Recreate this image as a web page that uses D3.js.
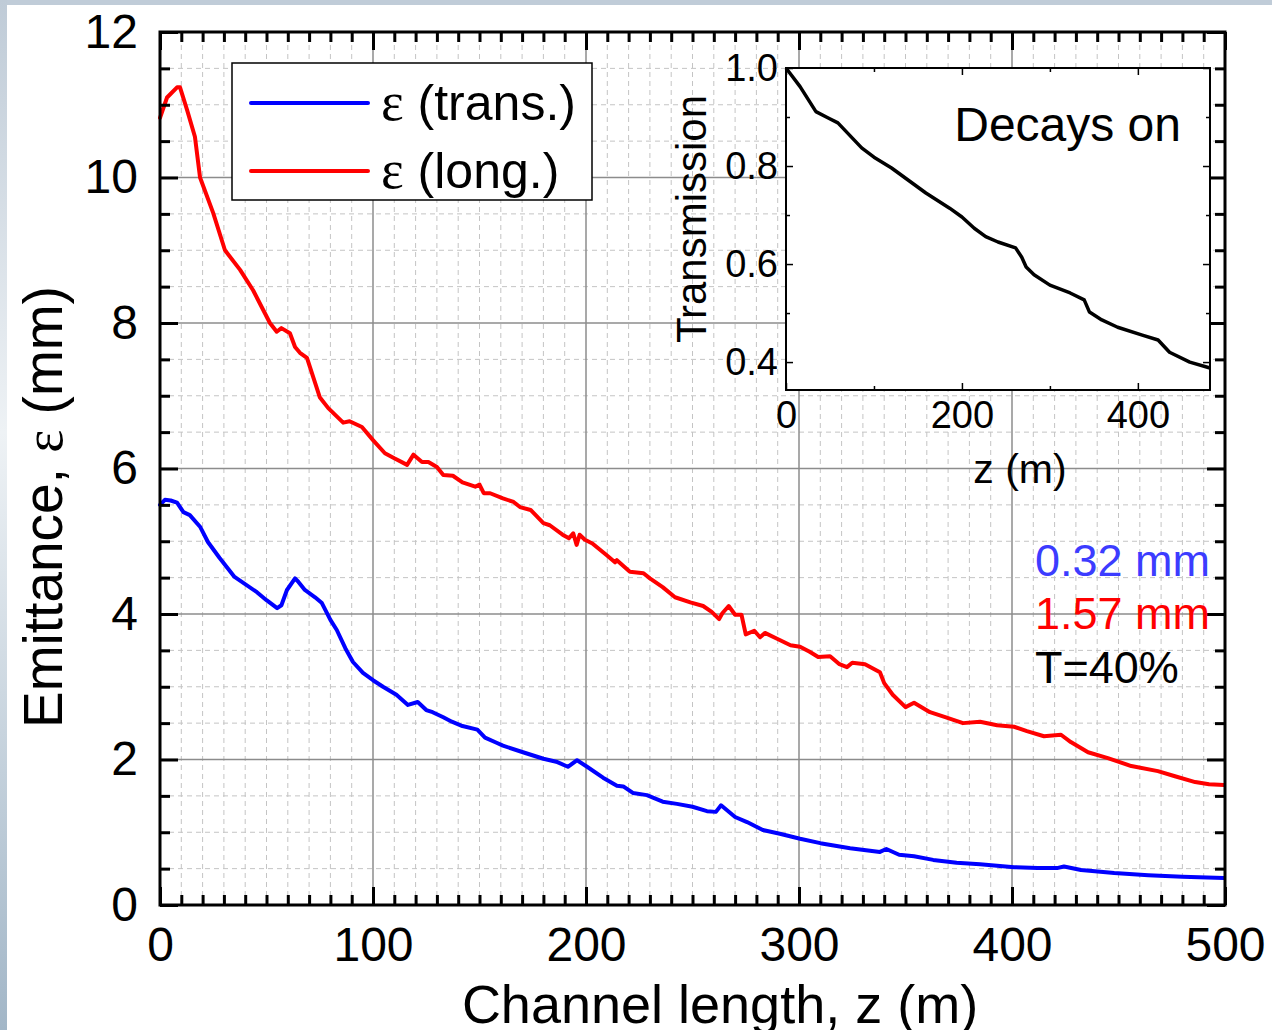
<!DOCTYPE html>
<html>
<head>
<meta charset="utf-8">
<script src="https://cdn.jsdelivr.net/npm/d3@7"></script>
<style>
  body { margin: 0; background: #fff; }
  svg { display: block; }
  text { font-family: "Liberation Sans", Arial, sans-serif; fill: #000; }
</style>
</head>
<body>
<div id="chart"></div>
<script>
// emittance, transverse (blue)
var zTrans = [0, 2.3, 5, 8, 11, 14, 18.8, 22.5, 28, 35, 45.5, 50, 55, 57, 59.6, 63.4, 65, 68, 72.8, 76,
  80, 83, 87, 90.6, 95.3, 100, 104.7, 111, 116.4, 121, 125, 128, 133, 137, 142, 149, 152.6, 158, 161, 170.4,
  180, 186, 191.5, 195.8, 200.5, 208, 214.5, 217.5, 222, 228.6, 236, 242.7, 250, 256.8, 261, 263.4, 270, 275.6, 283, 291,
  300.5, 310, 324, 338, 341, 347, 354, 363, 374, 385, 401, 412, 421.6, 424.4, 432.4, 448, 464, 480, 499.5];
var epsTrans = [5.50, 5.57, 5.56, 5.53, 5.40, 5.36, 5.20, 4.99, 4.77, 4.51, 4.30, 4.19, 4.08, 4.12, 4.33, 4.49, 4.44, 4.33, 4.23, 4.15,
  3.92, 3.78, 3.53, 3.34, 3.19, 3.09, 3.00, 2.89, 2.75, 2.79, 2.68, 2.65, 2.58, 2.52, 2.46, 2.41, 2.30, 2.23, 2.19, 2.10,
  2.01, 1.97, 1.90, 1.99, 1.90, 1.75, 1.64, 1.63, 1.54, 1.51, 1.42, 1.39, 1.35, 1.29, 1.28, 1.37, 1.21, 1.14, 1.03, 0.98,
  0.91, 0.85, 0.78, 0.73, 0.77, 0.69, 0.67, 0.62, 0.58, 0.56, 0.52, 0.51, 0.51, 0.53, 0.48, 0.44, 0.41, 0.39, 0.37];

// emittance, longitudinal (red)
var zLong = [0, 3.3, 8, 9.4, 12.7, 16.4, 18.8, 25, 30.5, 37.6, 43.7, 51.6, 54.8, 57, 61, 63.4, 65.7, 69, 75, 79,
  86, 89, 94.8, 100, 105.6, 110, 116, 119, 123, 126, 130, 133, 137.5, 142, 148, 150, 152, 155, 161, 166,
  169, 174, 180, 183, 189, 192, 194, 195.6, 197, 199.5, 203, 209.6, 213.6, 214.5, 220.6, 227, 230, 236, 241.8, 249,
  255, 259, 262.5, 264, 267, 270, 273, 275, 279, 281.7, 284, 289.7, 296, 300.5, 305, 309, 314.6, 319, 322.5, 325,
  331, 338, 340, 344, 350, 354, 361.5, 369, 377, 385, 393, 401, 407, 415, 423, 427.6, 435.7, 445, 456, 468.5,
  476.5, 486, 492.5, 499.5];
var epsLong = [10.82, 11.10, 11.24, 11.24, 10.93, 10.56, 10.00, 9.51, 9.00, 8.73, 8.45, 8.00, 7.88, 7.93, 7.86, 7.67, 7.59, 7.52, 6.98, 6.83,
  6.63, 6.65, 6.57, 6.39, 6.21, 6.14, 6.05, 6.19, 6.09, 6.09, 6.02, 5.91, 5.90, 5.81, 5.75, 5.78, 5.66, 5.66, 5.59, 5.54,
  5.47, 5.43, 5.25, 5.22, 5.09, 5.04, 5.11, 4.95, 5.09, 5.02, 4.97, 4.81, 4.71, 4.74, 4.58, 4.56, 4.49, 4.37, 4.23, 4.16,
  4.11, 4.03, 3.93, 4.01, 4.11, 3.99, 3.99, 3.72, 3.77, 3.68, 3.74, 3.66, 3.57, 3.55, 3.48, 3.41, 3.42, 3.31, 3.27, 3.33,
  3.31, 3.20, 3.05, 2.89, 2.72, 2.78, 2.65, 2.58, 2.50, 2.52, 2.47, 2.45, 2.39, 2.32, 2.34, 2.24, 2.10, 2.02, 1.91, 1.84,
  1.77, 1.69, 1.66, 1.65];

// inset: transmission
var zInset = [0, 16, 34, 48, 59, 86, 100, 120, 159, 186, 200, 214, 227, 241, 261, 268, 273, 282, 300, 323,
  339, 345, 359, 377, 405, 423, 436, 459, 482];
var transmission = [1.0, 0.962, 0.911, 0.898, 0.888, 0.837, 0.818, 0.796, 0.745, 0.714, 0.696, 0.673, 0.656, 0.645, 0.633, 0.614, 0.594, 0.578, 0.557, 0.541,
  0.527, 0.502, 0.486, 0.471, 0.455, 0.445, 0.420, 0.400, 0.388];

var xTicks = [0, 100, 200, 300, 400, 500];
var yTicks = [0, 2, 4, 6, 8, 10, 12];
var insetXTicks = [0, 200, 400];
var insetXMinor = [100, 300];
var insetYTicks = [0.4, 0.6, 0.8, 1.0];
var insetYMinor = [0.5, 0.7, 0.9];
var legendLabels = [' (trans.)', ' (long.)'];
var noteLabels = ['0.32 mm', '1.57 mm', 'T=40%'];

var width = 1272;
var height = 1030;
var svg = d3.select('#chart').append('svg')
  .attr('width', width)
  .attr('height', height);
var defs = svg.append('defs');

// slide-like edge at top and left
var edge = defs.append('linearGradient')
  .attr('id', 'edgeGrad')
  .attr('x1', 0).attr('y1', 0).attr('x2', 0).attr('y2', 1);
edge.append('stop').attr('offset', 0).attr('stop-color', '#bfcbd7');
edge.append('stop').attr('offset', 0.42).attr('stop-color', '#eef2f5');
edge.append('stop').attr('offset', 1).attr('stop-color', '#a2b6c7');
svg.append('rect')
  .attr('x', 0).attr('y', 0)
  .attr('width', width).attr('height', 5)
  .style('fill', '#c0ccd8');
svg.append('rect')
  .attr('x', 0).attr('y', 0)
  .attr('width', 7).attr('height', height)
  .style('fill', 'url(#edgeGrad)');

var x = d3.scaleLinear().domain([0, 500]).range([160, 1225]);
var y = d3.scaleLinear().domain([0, 12]).range([905, 32]);

var xMinor = d3.range(10, 500, 10).filter(function (v) { return v % 100 !== 0; });
var yMinor = d3.range(0.5, 12, 0.5).filter(function (v) { return v % 2 !== 0; });

// grid
var grid = svg.append('g');
grid.selectAll('.vminor').data(xMinor).enter().append('line')
  .attr('x1', function (d) { return x(d); })
  .attr('x2', function (d) { return x(d); })
  .attr('y1', y(0)).attr('y2', y(12))
  .style('stroke', '#c4c4c4').style('stroke-width', 1).style('stroke-dasharray', '5,4');
grid.selectAll('.hminor').data(yMinor).enter().append('line')
  .attr('y1', function (d) { return y(d); })
  .attr('y2', function (d) { return y(d); })
  .attr('x1', x(0)).attr('x2', x(500))
  .style('stroke', '#c4c4c4').style('stroke-width', 1).style('stroke-dasharray', '5,4');
grid.selectAll('.vmajor').data(xTicks.slice(1, -1)).enter().append('line')
  .attr('x1', function (d) { return x(d); })
  .attr('x2', function (d) { return x(d); })
  .attr('y1', y(0)).attr('y2', y(12))
  .style('stroke', '#8c8c8c').style('stroke-width', 1.5);
grid.selectAll('.hmajor').data(yTicks.slice(1, -1)).enter().append('line')
  .attr('y1', function (d) { return y(d); })
  .attr('y2', function (d) { return y(d); })
  .attr('x1', x(0)).attr('x2', x(500))
  .style('stroke', '#8c8c8c').style('stroke-width', 1.5);

// curves
var line = d3.line()
  .x(function (d) { return x(d[0]); })
  .y(function (d) { return y(d[1]); });
svg.append('path')
  .datum(d3.zip(zLong, epsLong))
  .attr('d', line)
  .style('fill', 'none').style('stroke', '#ff0000').style('stroke-width', 4)
  .style('stroke-linejoin', 'round').style('stroke-linecap', 'round');
svg.append('path')
  .datum(d3.zip(zTrans, epsTrans))
  .attr('d', line)
  .style('fill', 'none').style('stroke', '#0000ff').style('stroke-width', 4)
  .style('stroke-linejoin', 'round').style('stroke-linecap', 'round');

// axes, ticks pointing inward
function styleAxis(g, fontSize, tickWidth) {
  g.select('.domain').remove();
  g.attr('font-family', null).attr('font-size', fontSize);
  g.selectAll('line').style('stroke', '#000').style('stroke-width', tickWidth);
  g.selectAll('text').style('fill', '#000');
}
function addAxes(xs, ys, opt) {
  var h = ys.range()[0], t = ys.range()[1], l = xs.range()[0], r = xs.range()[1];
  [[d3.axisBottom, 'translate(0,' + h + ')', xs, true],
    [d3.axisTop, 'translate(0,' + t + ')', xs, false],
    [d3.axisLeft, 'translate(' + l + ',0)', ys, true],
    [d3.axisRight, 'translate(' + r + ',0)', ys, false]].forEach(function (a, i) {
    var horiz = i < 2;
    var major = a[0](a[2])
      .tickValues(horiz ? opt.xMajor : opt.yMajor)
      .tickSize(-opt.major)
      .tickSizeOuter(0)
      .tickPadding(horiz ? opt.xPad : opt.yPad);
    if (!a[3]) major.tickFormat('');
    else major.tickFormat(horiz ? opt.xFormat : opt.yFormat);
    svg.append('g').attr('transform', a[1]).call(major)
      .call(function (g) { styleAxis(g, opt.fontSize, opt.tickWidth); });
    var minor = a[0](a[2])
      .tickValues(horiz ? opt.xMinor : opt.yMinor)
      .tickSize(-opt.minor)
      .tickSizeOuter(0)
      .tickFormat('');
    svg.append('g').attr('transform', a[1]).call(minor)
      .call(function (g) { styleAxis(g, opt.fontSize, opt.tickWidth); });
  });
  svg.append('rect')
    .attr('x', l).attr('y', t)
    .attr('width', r - l).attr('height', h - t)
    .style('fill', 'none').style('stroke', '#000').style('stroke-width', opt.frame);
}

addAxes(x, y, {
  xMajor: xTicks, yMajor: yTicks, xMinor: xMinor, yMinor: yMinor,
  major: 18, minor: 10, xPad: 22, yPad: 22, fontSize: 48, tickWidth: 3, frame: 3,
  xFormat: d3.format('d'), yFormat: d3.format('d')
});

// legend
var legend = svg.append('g');
legend.append('rect')
  .attr('x', 232).attr('y', 63)
  .attr('width', 360).attr('height', 137)
  .style('fill', '#fff').style('stroke', '#000').style('stroke-width', 1.5);
var legendColors = ['#0000ff', '#ff0000'];
legendLabels.forEach(function (label, i) {
  var ly = 103 + i * 68;
  legend.append('line')
    .attr('x1', 251).attr('x2', 368)
    .attr('y1', ly).attr('y2', ly)
    .style('stroke', legendColors[i]).style('stroke-width', 4).style('stroke-linecap', 'round');
  var t = legend.append('text')
    .attr('x', 381).attr('y', ly + 17)
    .attr('font-size', 50);
  t.append('tspan').style('font-family', '"Liberation Serif", "DejaVu Serif", serif').attr('font-size', 54).text('ε');
  t.append('tspan').text(label);
});

// axis titles
svg.append('text')
  .attr('transform', 'translate(62,507) rotate(-90)')
  .attr('text-anchor', 'middle')
  .attr('font-size', 55)
  .call(function (t) {
    t.append('tspan').text('Emittance, ');
    t.append('tspan').style('font-family', '"Liberation Serif", "DejaVu Serif", serif').text('ε');
    t.append('tspan').text(' (mm)');
  });
svg.append('text')
  .attr('x', 720).attr('y', 1023)
  .attr('text-anchor', 'middle')
  .attr('font-size', 54)
  .text('Channel length, z (m)');

// notes
var noteColors = ['#3c3cff', '#ff0000', '#000'];
noteLabels.forEach(function (n, i) {
  svg.append('text')
    .attr('x', 1035).attr('y', [576, 629, 683][i])
    .attr('font-size', 45)
    .style('fill', noteColors[i])
    .text(n);
});

// inset
var ix = d3.scaleLinear().domain([0, 482]).range([786, 1210]);
var iy = d3.scaleLinear().domain([0.343, 1]).range([390, 68]);
svg.append('rect')
  .attr('x', 786).attr('y', 68)
  .attr('width', 1210 - 786).attr('height', 390 - 68)
  .style('fill', '#fff');
var iline = d3.line()
  .x(function (d) { return ix(d[0]); })
  .y(function (d) { return iy(d[1]); });
svg.append('path')
  .datum(d3.zip(zInset, transmission))
  .attr('d', iline)
  .style('fill', 'none').style('stroke', '#000').style('stroke-width', 3.5)
  .style('stroke-linejoin', 'round');
addAxes(ix, iy, {
  xMajor: insetXTicks, yMajor: insetYTicks, xMinor: insetXMinor, yMinor: insetYMinor,
  major: 7, minor: 4, xPad: 11, yPad: 8, fontSize: 38, tickWidth: 1.5, frame: 2,
  xFormat: d3.format('d'), yFormat: d3.format('.1f')
});

svg.append('text')
  .attr('transform', 'translate(706,219) rotate(-90)')
  .attr('text-anchor', 'middle')
  .attr('font-size', 42)
  .text('Transmission');
svg.append('text')
  .attr('x', 1020).attr('y', 483)
  .attr('text-anchor', 'middle')
  .attr('font-size', 41)
  .text('z (m)');
svg.append('text')
  .attr('x', 1181).attr('y', 141)
  .attr('text-anchor', 'end')
  .attr('font-size', 48)
  .text('Decays on');
</script>
</body>
</html>
